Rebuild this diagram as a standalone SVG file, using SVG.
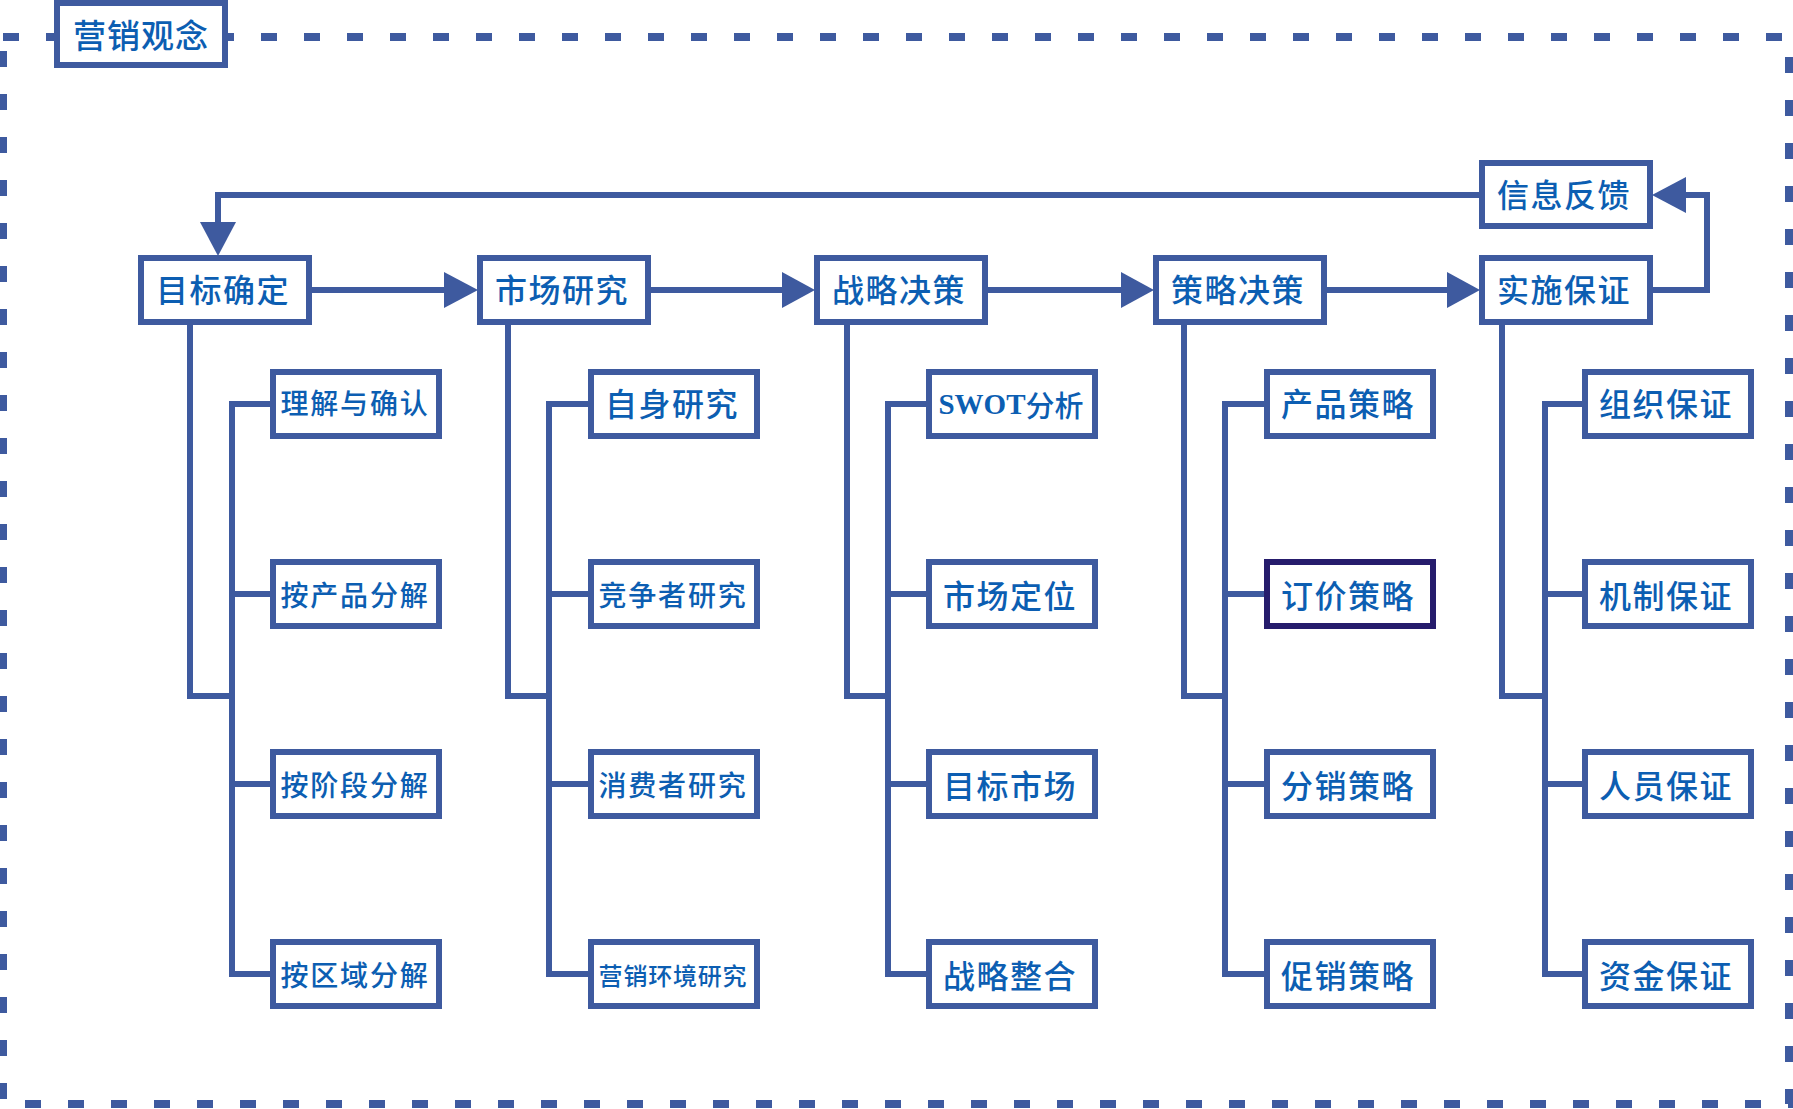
<svg xmlns="http://www.w3.org/2000/svg" width="1793" height="1109" viewBox="0 0 1793 1109">
<style>
.box{fill:#fff;stroke:#3e5a9f;stroke-width:6}
.dark{stroke:#261c6c}
.ln{fill:none;stroke:#3e5a9f;stroke-width:6}
.ah{fill:#3e5a9f}
.t{font-family:"Noto Sans CJK SC","Noto Sans",sans-serif;fill:#0c5eb2;text-anchor:middle;dominant-baseline:central;font-weight:500}
.tm{font-size:32px;letter-spacing:1.5px}
.ts{font-size:28px;letter-spacing:1.8px}
.serif{font-family:"Liberation Serif",serif;font-weight:bold}
</style>
<rect width="1793" height="1109" fill="#fff"/>
<rect x="3" y="37" width="1786" height="1067" fill="none" stroke="#3e5a9f" stroke-width="8" stroke-dasharray="16 27"/>
<g id="title"><rect class="box" x="57" y="3" width="168" height="62"/><text class="t" x="141" y="34" font-size="33" letter-spacing="1">营销观念</text></g>

<g id="connectors">
<path class="ln" d="M311,290 H446 M650,290 H785 M988,290 H1124 M1327,290 H1450"/>
<polygon class="ah" points="444,272 478,290 444,308"/>
<polygon class="ah" points="782,272 815,290 782,308"/>
<polygon class="ah" points="1121,272 1154,290 1121,308"/>
<polygon class="ah" points="1447,272 1480,290 1447,308"/>
<path class="ln" d="M1652,290 H1707 V195 H1680"/>
<polygon class="ah" points="1652,195 1686,177 1686,213"/>
<path class="ln" d="M1480,195 H218 V228"/>
<polygon class="ah" points="200,222 236,222 218,256"/>
<path class="ln" d="M190,325 V696 H232 M270,404 H232 V974 H270 M232,594 H270 M232,784 H270"/>
<path class="ln" d="M508,325 V696 H549 M588,404 H549 V974 H588 M549,594 H588 M549,784 H588"/>
<path class="ln" d="M847,325 V696 H888 M926,404 H888 V974 H926 M888,594 H926 M888,784 H926"/>
<path class="ln" d="M1184,325 V696 H1225 M1264,404 H1225 V974 H1264 M1225,594 H1264 M1225,784 H1264"/>
<path class="ln" d="M1502,325 V696 H1545 M1582,404 H1545 V974 H1582 M1545,594 H1582 M1545,784 H1582"/>
</g>

<g id="n-goal"><rect class="box" x="141" y="258" width="168" height="64"/><text class="t tm" x="223" y="288">目标确定</text></g>
<g id="n-market"><rect class="box" x="480" y="258" width="168" height="64"/><text class="t tm" x="562" y="288">市场研究</text></g>
<g id="n-strategy"><rect class="box" x="817" y="258" width="168" height="64"/><text class="t tm" x="899" y="288">战略决策</text></g>
<g id="n-tactic"><rect class="box" x="1156" y="258" width="168" height="64"/><text class="t tm" x="1238" y="288">策略决策</text></g>
<g id="n-impl"><rect class="box" x="1482" y="258" width="168" height="64"/><text class="t tm" x="1564" y="288">实施保证</text></g>
<g id="n-feedback"><rect class="box" x="1482" y="163" width="168" height="63"/><text class="t tm" x="1564" y="193">信息反馈</text></g>

<g id="s1-1"><rect class="box" x="273" y="372" width="166" height="64"/><text class="t ts" x="355" y="402">理解与确认</text></g>
<g id="s1-2"><rect class="box" x="273" y="562" width="166" height="64"/><text class="t ts" x="355" y="594">按产品分解</text></g>
<g id="s1-3"><rect class="box" x="273" y="752" width="166" height="64"/><text class="t ts" x="355" y="784">按阶段分解</text></g>
<g id="s1-4"><rect class="box" x="273" y="942" width="166" height="64"/><text class="t ts" x="355" y="974">按区域分解</text></g>

<g id="s2-1"><rect class="box" x="591" y="372" width="166" height="64"/><text class="t tm" x="672" y="402">自身研究</text></g>
<g id="s2-2"><rect class="box" x="591" y="562" width="166" height="64"/><text class="t ts" x="673" y="594">竞争者研究</text></g>
<g id="s2-3"><rect class="box" x="591" y="752" width="166" height="64"/><text class="t ts" x="673" y="784">消费者研究</text></g>
<g id="s2-4"><rect class="box" x="591" y="942" width="166" height="64"/><text class="t" x="673" y="974" font-size="24" letter-spacing="0.8">营销环境研究</text></g>

<g id="s3-1"><rect class="box" x="929" y="372" width="166" height="64"/><text class="t" x="1011" y="404" font-size="29"><tspan class="serif">SWOT</tspan>分析</text></g>
<g id="s3-2"><rect class="box" x="929" y="562" width="166" height="64"/><text class="t tm" x="1010" y="594">市场定位</text></g>
<g id="s3-3"><rect class="box" x="929" y="752" width="166" height="64"/><text class="t tm" x="1010" y="784">目标市场</text></g>
<g id="s3-4"><rect class="box" x="929" y="942" width="166" height="64"/><text class="t tm" x="1010" y="974">战略整合</text></g>

<g id="s4-1"><rect class="box" x="1267" y="372" width="166" height="64"/><text class="t tm" x="1348" y="402">产品策略</text></g>
<g id="s4-2"><rect class="box dark" x="1267" y="562" width="166" height="64"/><text class="t tm" x="1348" y="594">订价策略</text></g>
<g id="s4-3"><rect class="box" x="1267" y="752" width="166" height="64"/><text class="t tm" x="1348" y="784">分销策略</text></g>
<g id="s4-4"><rect class="box" x="1267" y="942" width="166" height="64"/><text class="t tm" x="1348" y="974">促销策略</text></g>

<g id="s5-1"><rect class="box" x="1585" y="372" width="166" height="64"/><text class="t tm" x="1666" y="402">组织保证</text></g>
<g id="s5-2"><rect class="box" x="1585" y="562" width="166" height="64"/><text class="t tm" x="1666" y="594">机制保证</text></g>
<g id="s5-3"><rect class="box" x="1585" y="752" width="166" height="64"/><text class="t tm" x="1666" y="784">人员保证</text></g>
<g id="s5-4"><rect class="box" x="1585" y="942" width="166" height="64"/><text class="t tm" x="1666" y="974">资金保证</text></g>
</svg>
